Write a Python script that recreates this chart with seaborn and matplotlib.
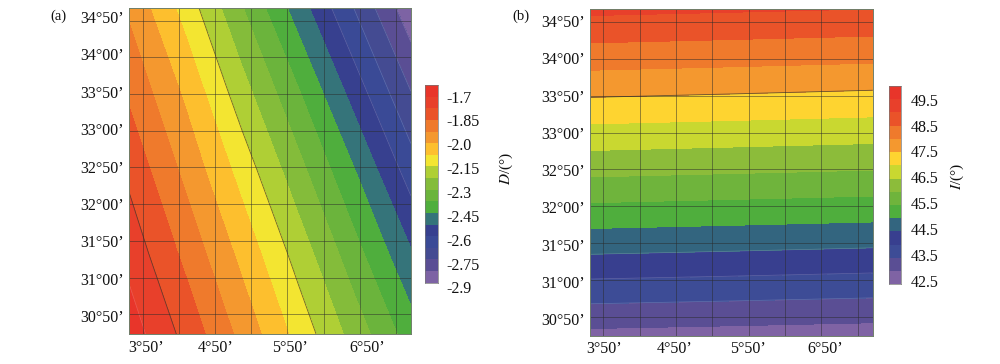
import numpy as np
import seaborn as sns
import matplotlib.pyplot as plt

# field nodes
lon_a = [3.65, 4.43, 5.21, 5.99, 6.76, 7.54]
lat_a = [30.56, 31.67, 32.78, 33.89, 35.0]
D_vals = [[-1.660, -1.798, -1.948, -2.102, -2.255, -2.413],
          [-1.726, -1.871, -2.023, -2.182, -2.347, -2.518],
          [-1.793, -1.944, -2.104, -2.274, -2.446, -2.635],
          [-1.866, -2.017, -2.197, -2.373, -2.560, -2.752],
          [-1.939, -2.105, -2.296, -2.488, -2.677, -2.876]]

lon_b = [3.65, 5.6, 7.54]
lat_b = [30.575, 31.68, 32.79, 33.90, 35.01]
I_vals = [[42.855, 42.80, 42.74],
          [44.50, 44.44, 44.375],
          [46.085, 46.02, 45.955],
          [47.625, 47.56, 47.49],
          [49.12, 49.06, 49.0]]

# bands from the top of the colour bar down
colors_a = ['#e8352a', '#e8402b', '#ea5329', '#ef7a2c', '#f4982f', '#fdbf2e', '#f3e531',
            '#afcf35', '#84bc3a', '#6bb43c', '#4fae3d', '#35747a', '#37408f', '#3a4a96',
            '#444b92', '#5a4e94', '#7d63a4']
colors_b = ['#e8352a', '#e8402b', '#ea5329', '#ef7a2c', '#f4982f', '#fed430', '#c9d830',
            '#8cbc3a', '#6fb43c', '#4fae3d', '#33657f', '#383f8f', '#3d4c96', '#5a4e94',
            '#7f63a4']
levels_a = np.linspace(-2.9, -1.625, 18)
levels_b = np.linspace(42.5, 50.0, 16)

lat_labels = ["30°50’", "31°00’", "31°50’", "32°00’", "32°50’", "33°00’", "33°50’", "34°00’", "34°50’"]
lon_labels = ["3°50’", "4°50’", "5°50’", "6°50’"]
cbar_labels_a = ['-1.7', '-1.85', '-2.0', '-2.15', '-2.3', '-2.45', '-2.6', '-2.75', '-2.9']
cbar_labels_b = ['49.5', '48.5', '47.5', '46.5', '45.5', '44.5', '43.5', '42.5']

lat_grid = 30.833 + 0.5*np.arange(9)
lon_grid = 3.833 + 0.5*np.arange(8)

sns.set_style('white')
plt.rcParams['font.family'] = ['Liberation Serif', 'DejaVu Serif']
plt.rcParams['mathtext.fontset'] = 'stix'

W, H = 1000., 364.

def px_axes(fig, x0, x1, y0, y1):
	return fig.add_axes([x0/W, 1-y1/H, (x1-x0)/W, (y1-y0)/H])

def field(fig, box, lon, lat, vals, colors, levels, dark, light, lat_pos, lon_pos, xlim, ylim):
	ax = px_axes(fig, *box)
	pal = sns.color_palette(colors[::-1])
	ax.contourf(lon, lat, vals, levels=levels, colors=pal)
	ax.contour(lon, lat, vals, levels=sorted(dark), colors='#3a3a2a', linewidths=0.6, alpha=0.75, linestyles='solid')
	if len(light) > 0:
		ax.contour(lon, lat, vals, levels=sorted(light), colors='white', linewidths=0.5, alpha=0.2, linestyles='solid')
	ax.vlines(lon_grid, ylim[0], ylim[1], color='#2a2a2a', lw=0.7, alpha=0.5)
	ax.hlines(lat_grid, xlim[0], xlim[1], color='#2a2a2a', lw=0.7, alpha=0.5)
	ax.set_xlim(xlim)
	ax.set_ylim(ylim)
	ax.set_xticks(lon_pos)
	ax.set_xticklabels(lon_labels, fontsize=11.5)
	ax.set_yticks(lat_pos)
	ax.set_yticklabels(lat_labels, fontsize=11.5)
	ax.tick_params(length=0, pad=4, colors='#111111')
	for s in ax.spines.values():
		s.set_color('#6f7f6a')
		s.set_linewidth(0.7)
	return ax

def cbar(fig, box, colors, levels, labels, label_pos, pad):
	cax = px_axes(fig, *box)
	n = len(colors)
	step = levels[1] - levels[0]
	sns.heatmap(np.arange(n).reshape(-1, 1), cmap=colors, cbar=False, ax=cax,
				xticklabels=False, yticklabels=False)
	for lab, p in zip(labels, label_pos):
		cax.annotate(lab, xy=(1, (levels[-1]-p)/step), xycoords=cax.get_yaxis_transform(),
					xytext=(pad, 0), textcoords='offset points', va='center', ha='left',
					fontsize=11.5, color='#111111')
	for s in ['left', 'right', 'top', 'bottom']:
		cax.spines[s].set_visible(True)
		cax.spines[s].set_color('#777777')
		cax.spines[s].set_linewidth(0.5)
	return cax

fig = plt.figure(figsize=(10, 3.64), dpi=100)

field(fig, (129.3, 410.7, 8.3, 334.3), lon_a, lat_a, D_vals, colors_a, levels_a,
	[levels_a[-3], levels_a[-8]], [levels_a[-2], levels_a[4], levels_a[3], levels_a[2], levels_a[1]],
	np.linspace(30.81, 34.88, 9), [3.879, 4.842, 5.865, 6.93], (3.649, 7.538), (30.56, 35.0))
cbar(fig, (425, 437.7, 85, 282.7), colors_a, levels_a, cbar_labels_a, np.linspace(-1.713, -2.943, 9), 6)

field(fig, (590.3, 872.7, 9, 335.7), lon_b, lat_b, I_vals, colors_b, levels_b,
	[levels_b[-6]], [levels_b[4], levels_b[3], levels_b[2]],
	np.linspace(30.797, 34.847, 9), [3.847, 4.81, 5.82, 6.88], (3.654, 7.54), (30.575, 35.01))
cbar(fig, (888.7, 901.3, 86, 284.3), colors_b, levels_b, cbar_labels_b, np.linspace(49.41, 42.55, 8), 6.5)

fig.text(58/W, 1-16/H, '(a)', fontsize=10.5, ha='center', va='center', color='#111111')
fig.text(521/W, 1-16/H, '(b)', fontsize=10.5, ha='center', va='center', color='#111111')
fig.text(506/W, 1-168/H, r'$\mathit{D}$/(°)', fontsize=11, rotation=90, ha='center', va='center', color='#111111')
fig.text(957/W, 1-176/H, r'$\mathit{I}$/(°)', fontsize=11, rotation=90, ha='center', va='center', color='#111111')

plt.savefig('out.png', dpi=100)
